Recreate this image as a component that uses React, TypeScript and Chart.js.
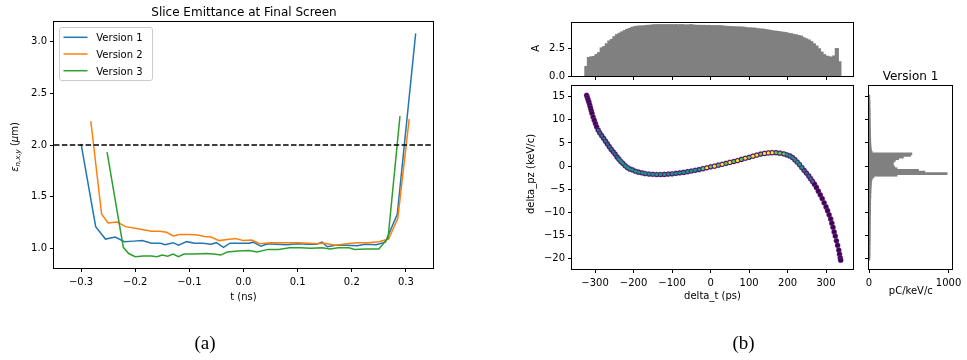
import React, { useEffect, useRef } from 'react';
import { Chart, registerables } from 'chart.js';

Chart.register(...registerables);

const FONT = "'DejaVu Sans', 'Noto Sans', sans-serif";
const MINUS = '\u2212';

// ---------------- (a) Slice emittance ----------------
const V1_T = [-0.300, -0.273, -0.255, -0.237, -0.220, -0.203, -0.187, -0.170, -0.153, -0.145, -0.130, -0.120, -0.105, -0.090, -0.075, -0.060, -0.050, -0.037, -0.025, -0.005, 0.010, 0.018, 0.032, 0.045, 0.060, 0.080, 0.100, 0.120, 0.135, 0.145, 0.155, 0.170, 0.190, 0.210, 0.225, 0.245, 0.262, 0.284, 0.318];
const V1_E = [2.01, 1.21, 1.09, 1.11, 1.065, 1.07, 1.075, 1.05, 1.05, 1.035, 1.055, 1.03, 1.065, 1.05, 1.05, 1.04, 1.055, 1.01, 1.05, 1.05, 1.05, 1.06, 1.02, 1.045, 1.04, 1.035, 1.045, 1.04, 1.04, 1.06, 1.015, 1.03, 1.03, 1.025, 1.04, 1.035, 1.06, 1.33, 3.08];

const V2_T = [-0.282, -0.262, -0.250, -0.233, -0.218, -0.200, -0.185, -0.170, -0.155, -0.142, -0.130, -0.118, -0.100, -0.085, -0.072, -0.060, -0.045, -0.030, -0.015, 0.000, 0.015, 0.030, 0.050, 0.075, 0.100, 0.120, 0.135, 0.150, 0.170, 0.190, 0.210, 0.230, 0.250, 0.268, 0.285, 0.306];
const V2_E = [2.23, 1.33, 1.245, 1.255, 1.21, 1.195, 1.18, 1.165, 1.165, 1.155, 1.12, 1.135, 1.135, 1.13, 1.115, 1.11, 1.075, 1.085, 1.095, 1.075, 1.08, 1.045, 1.055, 1.055, 1.055, 1.05, 1.045, 1.05, 1.03, 1.045, 1.055, 1.055, 1.065, 1.09, 1.29, 2.25];

const V3_T = [-0.252, -0.222, -0.212, -0.200, -0.185, -0.170, -0.160, -0.150, -0.140, -0.130, -0.120, -0.110, -0.090, -0.070, -0.055, -0.042, -0.030, -0.010, 0.010, 0.025, 0.045, 0.065, 0.085, 0.105, 0.125, 0.145, 0.160, 0.175, 0.195, 0.205, 0.225, 0.250, 0.267, 0.289];
const V3_E = [1.93, 1.01, 0.95, 0.92, 0.925, 0.925, 0.92, 0.935, 0.925, 0.945, 0.92, 0.945, 0.945, 0.95, 0.945, 0.935, 0.965, 0.975, 0.98, 0.965, 0.99, 0.99, 1.005, 1.005, 1.0, 1.005, 0.995, 1.005, 1.005, 0.99, 0.995, 0.995, 1.10, 2.28];

const THRESHOLD = 2.0;
const A_X_TICKS = [-0.3, -0.2, -0.1, 0.0, 0.1, 0.2, 0.3];
const A_Y_TICKS = [1.0, 1.5, 2.0, 2.5, 3.0];
const SERIES_NAMES = ['Version 1', 'Version 2', 'Version 3'];
const SERIES_COLORS = ['#1f77b4', '#ff7f0e', '#2ca02c'];

// ---------------- (b) Phase space ----------------
// current histogram (top): 100 bins starting at TH_T0 (ps), width TH_BIN
const TH_T0 = -326;
const TH_BIN = 6.64;
const TH_COUNTS = [
  0.84, 1.66, 1.72, 1.75, 1.93, 2.1, 2.53, 2.65, 2.9, 3.16,
  3.3, 3.55, 3.73, 3.86, 3.98, 4.1, 4.22, 4.3, 4.4, 4.46,
  4.5, 4.52, 4.52, 4.55, 4.58, 4.58, 4.62, 4.64, 4.63, 4.64,
  4.64, 4.63, 4.64, 4.64, 4.63, 4.64, 4.62, 4.64, 4.63, 4.6,
  4.62, 4.64, 4.6, 4.58, 4.58, 4.57, 4.58, 4.56, 4.57, 4.55,
  4.55, 4.54, 4.55, 4.53, 4.5, 4.49, 4.47, 4.46, 4.45, 4.43,
  4.43, 4.42, 4.4, 4.35, 4.34, 4.33, 4.32, 4.27, 4.25, 4.24,
  4.2, 4.16, 4.12, 4.07, 4.05, 4.02, 3.98, 3.95, 3.92, 3.86,
  3.82, 3.76, 3.72, 3.65, 3.6, 3.45, 3.35, 3.25, 3.1, 2.9,
  2.7, 2.45, 2.15, 1.92, 1.78, 1.72, 1.68, 1.8, 2.47, 1.27,
];

// energy histogram (right): 100 bins starting at RH_PZ0 (keV/c), width RH_BIN
const RH_PZ0 = -20.3;
const RH_BIN = 0.356;
const RH_COUNTS = [
  8, 10, 10, 12, 10, 10, 12, 12, 10, 12,
  12, 12, 14, 12, 12, 14, 14, 12, 14, 14,
  14, 14, 16, 14, 16, 16, 14, 16, 18, 16,
  18, 18, 16, 18, 20, 18, 20, 20, 22, 20,
  22, 24, 22, 24, 26, 26, 28, 30, 34, 40,
  60, 350, 980, 700, 620, 350, 320, 305, 300, 310,
  330, 370, 430, 520, 537, 40, 30, 26, 24, 22,
  22, 20, 20, 20, 18, 18, 18, 16, 16, 16,
  16, 14, 14, 14, 14, 14, 12, 12, 12, 12,
  12, 12, 10, 10, 10, 10, 10, 8, 8, 8,
];

// scatter: points (delta_t ps, delta_pz keV/c)
const CURVE_T = [-322, -320, -318, -316, -314, -312, -310, -308, -305, -302, -299, -296, -292, -288, -283, -278, -273, -268, -263, -258, -253, -248, -243, -238, -233, -228, -222, -216, -210, -203, -195, -187, -178, -170, -160, -150, -140, -130, -120, -110, -100, -90, -80, -70, -60, -50, -40, -30, -20, -10, 0, 10, 20, 30, 40, 50, 60, 70, 80, 90, 100, 110, 120, 130, 140, 150, 160, 170, 180, 190, 198, 206, 213, 219, 225, 231, 237, 243, 249, 255, 260, 265, 270, 275, 280, 285, 290, 295, 300, 304, 308, 312, 315, 318, 321, 324, 327, 330, 333, 335, 337, 338];
const CURVE_PZ = [15.3, 14.8, 14.3, 13.8, 13.2, 12.6, 12.0, 11.4, 10.6, 9.9, 9.2, 8.5, 7.8, 7.2, 6.6, 6.0, 5.4, 4.8, 4.2, 3.6, 3.1, 2.6, 2.0, 1.5, 1.0, 0.6, 0.1, -0.3, -0.6, -0.8, -1.1, -1.3, -1.45, -1.6, -1.7, -1.75, -1.8, -1.8, -1.78, -1.72, -1.65, -1.55, -1.45, -1.35, -1.2, -1.05, -0.9, -0.75, -0.55, -0.35, -0.15, 0.0, 0.2, 0.4, 0.6, 0.8, 1.0, 1.2, 1.45, 1.7, 1.9, 2.15, 2.4, 2.6, 2.75, 2.85, 2.9, 2.9, 2.8, 2.65, 2.45, 2.2, 1.85, 1.4, 0.9, 0.35, -0.3, -0.9, -1.5, -2.1, -2.7, -3.3, -3.9, -4.6, -5.4, -6.2, -7.0, -7.9, -8.8, -9.6, -10.5, -11.4, -12.3, -13.2, -14.2, -15.1, -16.1, -17.1, -18.1, -19.0, -19.8, -20.3];

const CORE_BLUE_T = [-292, -288, -283, -278, -273, -268, -263, -258, -253, -248, -243, 243, 249, 255, 260, 265];
const CORE_BLUE_PZ = [7.8, 7.2, 6.6, 6.0, 5.4, 4.8, 4.2, 3.6, 3.1, 2.6, 2.0, -0.9, -1.5, -2.1, -2.7, -3.3];
const CORE_TEAL_T = [-238, -233, -228, -222, -216, -210, -203, -195, -187, -178, -170, -160, -150, -140, -130, -120, -110, -100, -90, -80, -70, -60, -50, -40, -30, 198, 206, 213, 219, 225, 231, 237];
const CORE_TEAL_PZ = [1.5, 1.0, 0.6, 0.1, -0.3, -0.6, -0.8, -1.1, -1.3, -1.45, -1.6, -1.7, -1.75, -1.8, -1.8, -1.78, -1.72, -1.65, -1.55, -1.45, -1.35, -1.2, -1.05, -0.9, -0.75, 2.45, 2.2, 1.85, 1.4, 0.9, 0.35, -0.3];
const CORE_GREEN_T = [-20, 0, 20, 40, 60, 80, 100, 130, 170, 180, 190];
const CORE_GREEN_PZ = [-0.55, -0.15, 0.2, 0.6, 1.0, 1.45, 1.9, 2.6, 2.9, 2.8, 2.65];
const CORE_YELLOW_T = [-10, 10, 30, 50, 70, 90, 110, 120, 140, 150, 160];
const CORE_YELLOW_PZ = [-0.35, 0.0, 0.4, 0.8, 1.2, 1.7, 2.15, 2.4, 2.75, 2.85, 2.9];

const B_T_TICKS = [-300, -200, -100, 0, 100, 200, 300];
const B_PZ_TICKS = [-20, -15, -10, -5, 0, 5, 10, 15];
const TH_Y_TICKS = [0, 2.5];
const RH_X_TICKS = [0, 1000];

// ---------------- helpers ----------------
const fmtSigned = (digits: number) => (v: number) => (v < 0 ? MINUS : '') + Math.abs(v).toFixed(digits);
const blank = () => '';

function scale(o: any) {
  return {
    type: 'linear',
    min: o.min,
    max: o.max,
    offset: false,
    afterBuildTicks: (s: any) => {
      s.ticks = o.ticks.map((v: number) => ({ value: v }));
    },
    afterFit: (s: any) => {
      if (o.horiz) s.height = o.size;
      else s.width = o.size;
    },
    grid: {
      display: true,
      drawOnChartArea: false,
      drawTicks: true,
      tickLength: 4,
      tickColor: '#000',
      tickWidth: 1,
      offset: false,
    },
    border: { display: false },
    ticks: {
      callback: (v: any) => o.fmt(Number(v)),
      color: '#000',
      font: { family: FONT, size: 10 },
      padding: o.horiz ? 4 : 3,
      maxRotation: 0,
      minRotation: 0,
      autoSkip: false,
      includeBounds: false,
    },
  };
}

const framePlugin = {
  id: 'frame',
  afterDraw(chart: any) {
    const { left, top, right, bottom } = chart.chartArea;
    const ctx = chart.ctx;
    ctx.save();
    ctx.strokeStyle = '#000';
    ctx.lineWidth = 1;
    ctx.strokeRect(Math.round(left) - 0.5, Math.round(top) - 0.5, Math.round(right) - Math.round(left) + 1, Math.round(bottom) - Math.round(top) + 1);
    ctx.restore();
  },
};

function textPlugin(items: any[]) {
  return {
    id: 'texts',
    afterDraw(chart: any) {
      const ctx = chart.ctx;
      for (const it of items) {
        const parts = typeof it.parts === 'string' ? [{ t: it.parts }] : it.parts;
        const base = it.size || 10;
        const fontOf = (p: any) => `${p.italic ? 'italic ' : ''}${p.size || base}px ${FONT}`;
        ctx.save();
        ctx.translate(it.x, it.y);
        if (it.rotate) ctx.rotate(-Math.PI / 2);
        ctx.textBaseline = 'alphabetic';
        ctx.textAlign = 'left';
        ctx.fillStyle = it.color || '#000';
        const widths = parts.map((p: any) => {
          ctx.font = fontOf(p);
          return ctx.measureText(p.t).width;
        });
        const total = widths.reduce((a: number, b: number) => a + b, 0);
        let x = -total / 2;
        parts.forEach((p: any, i: number) => {
          ctx.font = fontOf(p);
          ctx.fillText(p.t, x, p.dy || 0);
          x += widths[i];
        });
        ctx.restore();
      }
    },
  };
}

const legendPlugin = {
  id: 'legendBox',
  afterDraw(chart: any) {
    const ctx = chart.ctx;
    const x = 59.5, y = 27.5, w = 93, h = 53, r = 2.5;
    ctx.save();
    ctx.beginPath();
    ctx.moveTo(x + r, y);
    ctx.lineTo(x + w - r, y);
    ctx.quadraticCurveTo(x + w, y, x + w, y + r);
    ctx.lineTo(x + w, y + h - r);
    ctx.quadraticCurveTo(x + w, y + h, x + w - r, y + h);
    ctx.lineTo(x + r, y + h);
    ctx.quadraticCurveTo(x, y + h, x, y + h - r);
    ctx.lineTo(x, y + r);
    ctx.quadraticCurveTo(x, y, x + r, y);
    ctx.closePath();
    ctx.fillStyle = 'rgba(255,255,255,0.8)';
    ctx.fill();
    ctx.strokeStyle = '#cccccc';
    ctx.lineWidth = 1;
    ctx.stroke();
    SERIES_NAMES.forEach((name, i) => {
      const yy = 37.3 + i * 16.7;
      ctx.beginPath();
      ctx.strokeStyle = SERIES_COLORS[i];
      ctx.lineWidth = 1.5;
      ctx.moveTo(63.5, yy);
      ctx.lineTo(87.5, yy);
      ctx.stroke();
      ctx.fillStyle = '#000';
      ctx.font = `10px ${FONT}`;
      ctx.textBaseline = 'alphabetic';
      ctx.textAlign = 'left';
      ctx.fillText(name, 96.3, yy + 4);
    });
    ctx.restore();
  },
};

const baseOptions = (padding: any) => ({
  responsive: false,
  animation: false,
  events: [],
  layout: { padding },
  plugins: { legend: { display: false }, tooltip: { enabled: false }, title: { display: false } },
});

const pts = (xs: number[], ys: number[]) => xs.map((x, i) => ({ x, y: ys[i] }));

// ---------------- configs ----------------
function configA(): any {
  const series = [
    [V1_T, V1_E],
    [V2_T, V2_E],
    [V3_T, V3_E],
  ];
  return {
    type: 'line',
    data: {
      datasets: [
        ...series.map((s, i) => ({
          label: SERIES_NAMES[i],
          data: pts(s[0], s[1]),
          borderColor: SERIES_COLORS[i],
          borderWidth: 1.5,
          pointRadius: 0,
          fill: false,
          tension: 0,
          order: 3 - i,
        })),
        {
          label: 'threshold',
          data: [
            { x: -0.35, y: THRESHOLD },
            { x: 0.35, y: THRESHOLD },
          ],
          borderColor: '#000',
          borderWidth: 1.5,
          borderDash: [5.5, 2.4],
          pointRadius: 0,
          fill: false,
          order: 0,
        },
      ],
    },
    options: {
      ...baseOptions({ left: 14, right: 534, top: 22, bottom: 52 }),
      scales: {
        x: scale({ min: -0.35, max: 0.35, ticks: A_X_TICKS, fmt: fmtSigned(1), horiz: true, size: 40 }),
        y: scale({ min: 0.81, max: 3.19, ticks: A_Y_TICKS, fmt: fmtSigned(1), horiz: false, size: 40 }),
      },
    },
    plugins: [
      framePlugin,
      legendPlugin,
      textPlugin([
        { x: 244, y: 16, parts: 'Slice Emittance at Final Screen', size: 12 },
        { x: 243.5, y: 299.5, parts: 't (ns)' },
        {
          x: 18,
          y: 147,
          rotate: true,
          parts: [
            { t: 'ε', italic: true },
            { t: 'n,x,y', italic: true, size: 7, dy: 1.8 },
            { t: ' (' },
            { t: 'μ', italic: true },
            { t: 'm)' },
          ],
        },
      ]),
    ],
  };
}

function configTop(): any {
  return {
    type: 'bar',
    data: {
      datasets: [
        {
          data: TH_COUNTS.map((v, i) => ({ x: TH_T0 + TH_BIN * (i + 0.5), y: v })),
          backgroundColor: '#808080',
          borderWidth: 0,
          barPercentage: 1,
          categoryPercentage: 1,
          inflateAmount: 0.8,
        },
      ],
    },
    options: {
      ...baseOptions({ left: 542, right: 114, top: 23, bottom: 274 }),
      scales: {
        x: scale({ min: -360, max: 370, ticks: B_T_TICKS, fmt: blank, horiz: true, size: 10 }),
        y: scale({ min: 0, max: 4.82, ticks: TH_Y_TICKS, fmt: (v: number) => v.toFixed(1), horiz: false, size: 30 }),
      },
    },
    plugins: [framePlugin, textPlugin([{ x: 538.5, y: 48.3, rotate: true, parts: 'A' }])],
  };
}

function configScatter(): any {
  const mk = (xs: number[], ys: number[], color: string, radius: number, order: number, border: string) => ({
    data: pts(xs, ys),
    backgroundColor: color,
    borderColor: border,
    borderWidth: 1,
    pointRadius: radius,
    pointStyle: 'circle',
    order,
  });
  return {
    type: 'scatter',
    data: {
      datasets: [
        mk(CURVE_T, CURVE_PZ, '#440154', 2.6, 4, 'rgba(120,90,170,0.35)'),
        mk(CORE_BLUE_T, CORE_BLUE_PZ, '#31688e', 1.6, 3, 'rgba(49,104,142,0)'),
        mk(CORE_TEAL_T, CORE_TEAL_PZ, '#21918c', 1.7, 2, 'rgba(33,145,140,0)'),
        mk(CORE_GREEN_T, CORE_GREEN_PZ, '#5ec962', 1.6, 1, 'rgba(94,201,98,0)'),
        mk(CORE_YELLOW_T, CORE_YELLOW_PZ, '#fde725', 1.6, 0, 'rgba(253,231,37,0)'),
      ],
    },
    options: {
      ...baseOptions({ left: 542, right: 114, top: 86, bottom: 61 }),
      scales: {
        x: scale({ min: -360, max: 370, ticks: B_T_TICKS, fmt: fmtSigned(0), horiz: true, size: 30 }),
        y: scale({ min: -22.2, max: 17.3, ticks: B_PZ_TICKS, fmt: fmtSigned(0), horiz: false, size: 30 }),
      },
    },
    plugins: [
      framePlugin,
      textPlugin([
        { x: 533.5, y: 174, rotate: true, parts: 'delta_pz (keV/c)' },
        { x: 712.5, y: 299, parts: 'delta_t (ps)' },
      ]),
    ],
  };
}

function configRight(): any {
  return {
    type: 'bar',
    data: {
      datasets: [
        {
          data: RH_COUNTS.map((v, i) => ({ x: v, y: RH_PZ0 + RH_BIN * (i + 0.5) })),
          backgroundColor: '#808080',
          borderWidth: 0,
          barPercentage: 1,
          categoryPercentage: 1,
          inflateAmount: 0.5,
        },
      ],
    },
    options: {
      ...baseOptions({ left: 849, right: 15, top: 86, bottom: 61 }),
      indexAxis: 'y',
      scales: {
        x: scale({ min: 0, max: 1043, ticks: RH_X_TICKS, fmt: (v: number) => String(v), horiz: true, size: 30 }),
        y: scale({ min: -22.2, max: 17.3, ticks: B_PZ_TICKS, fmt: blank, horiz: false, size: 20 }),
      },
    },
    plugins: [
      framePlugin,
      textPlugin([
        { x: 910.5, y: 80, parts: 'Version 1', size: 12 },
        { x: 910.8, y: 294, parts: 'pC/keV/c' },
      ]),
    ],
  };
}

function ChartLayer({ make }: { make: () => any }) {
  const ref = useRef<HTMLCanvasElement>(null);
  useEffect(() => {
    const chart = new Chart(ref.current as HTMLCanvasElement, make());
    return () => chart.destroy();
  }, [make]);
  return (
    <canvas
      ref={ref}
      width={967}
      height={360}
      style={{ position: 'absolute', left: 0, top: 0, width: 967, height: 360 }}
    />
  );
}

const captionStyle: any = {
  position: 'absolute',
  top: 342,
  transform: 'translate(-50%, -50%)',
  fontFamily: "'Liberation Serif', 'DejaVu Serif', serif",
  fontSize: 19,
  color: '#000',
  lineHeight: 1,
};

export default function App() {
  return (
    <div style={{ position: 'absolute', left: 0, top: 0, width: 967, height: 360, background: '#fff', overflow: 'hidden' }}>
      <ChartLayer make={configA} />
      <ChartLayer make={configTop} />
      <ChartLayer make={configScatter} />
      <ChartLayer make={configRight} />
      <div style={{ ...captionStyle, left: 205 }}>(a)</div>
      <div style={{ ...captionStyle, left: 743.5 }}>(b)</div>
    </div>
  );
}
